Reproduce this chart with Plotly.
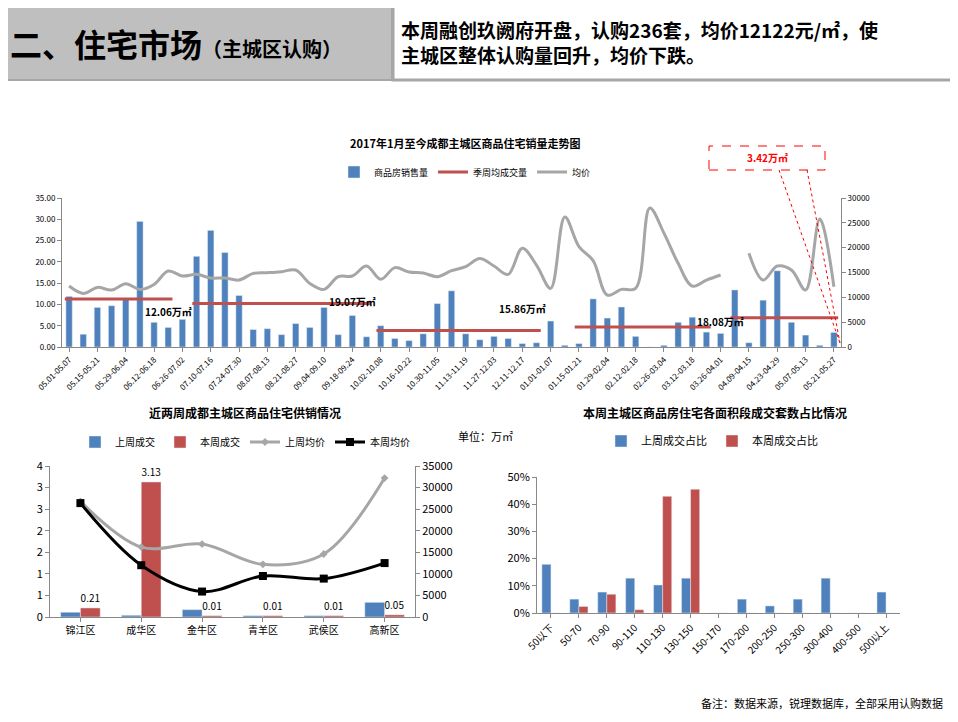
import plotly.graph_objects as go

FONT = "Noto Sans CJK SC"

# ---- top chart: weekly sales since 2017-05 ----
weeks = ["05.01-05.07", "05.08-05.14", "05.15-05.21", "05.22-05.28", "05.29-06.04", "06.05-06.11",
         "06.12-06.18", "06.19-06.25", "06.26-07.02", "07.03-07.09", "07.10-07.16", "07.17-07.23",
         "07.24-07.30", "07.31-08.06", "08.07-08.13", "08.14-08.20", "08.21-08.27", "08.28-09.03",
         "09.04-09.10", "09.11-09.17", "09.18-09.24", "09.25-10.01", "10.02-10.08", "10.09-10.15",
         "10.16-10.22", "10.23-10.29", "10.30-11.05", "11.06-11.12", "11.13-11.19", "11.20-11.26",
         "11.27-12.03", "12.04-12.10", "12.11-12.17", "12.18-12.24", "01.01-01.07", "01.08-01.14",
         "01.15-01.21", "01.22-01.28", "01.29-02.04", "02.05-02.11", "02.12-02.18", "02.19-02.25",
         "02.26-03.04", "03.05-03.11", "03.12-03.18", "03.19-03.25", "03.26-04.01", "04.02-04.08",
         "04.09-04.15", "04.16-04.22", "04.23-04.29", "04.30-05.06", "05.07-05.13", "05.14-05.20",
         "05.21-05.27"]
sales = [11.9, 3.0, 9.3, 9.7, 11.2, 29.5, 5.8, 4.6, 6.5, 21.3, 27.4, 22.2, 12.1, 4.1, 4.3, 2.9,
         5.5, 4.6, 9.3, 2.9, 7.4, 2.4, 5.0, 2.0, 1.5, 3.1, 10.2, 13.2, 3.1, 1.7, 2.5, 2.0, 0.8,
         1.0, 6.1, 0.4, 0.8, 11.3, 6.8, 9.4, 2.5, 0, 0.4, 5.8, 7.0, 3.5, 3.2, 13.4, 1.0, 11.0,
         17.9, 5.8, 2.8, 0.4, 3.42]
price = [12270, 10790, 12000, 11460, 12740, 11600, 12600, 15300, 14300, 14630, 13890, 13890,
         13480, 14830, 14970, 15170, 15500, 12800, 11600, 14160, 14300, 16300, 13620, 15980,
         15100, 14900, 14160, 15370, 16180, 17800, 16300, 14630, 19890, 16500, 11800, 26160,
         20220, 17390, 10450, 11600, 11800, 27980, 22920, 16850, 12270, 13480, 14500, None,
         18880, 13480, 16300, 15500, 11460, 25750, 12122]
# quarterly average segments
season_start = [0, 9, 22, 36, 47]
season_end = [7, 21, 33, 45, 54]
season_avg = [11.3, 10.2, 3.9, 4.7, 6.9]
season_label = ["12.06万㎡", "19.07万㎡", "15.86万㎡", "", "18.08万㎡"]
label_pos = [(7, 8.3), (20, 10.7), (32, 9.1), (0, 0), (46, 6.0)]

# ---- bottom left: districts ----
districts = ["锦江区", "成华区", "金牛区", "青羊区", "武侯区", "高新区"]
last_deal = [0.11, 0.04, 0.17, 0.03, 0.03, 0.34]
this_deal = [0.21, 3.13, 0.03, 0.03, 0.03, 0.05]
this_deal_text = ["0.21", "3.13", "0.01", "0.01", "0.01", "0.05"]
last_price = [26800, 16200, 16900, 12200, 14600, 32200]
this_price = [26400, 12000, 5900, 9500, 8900, 12500]

# ---- bottom right: area segments ----
segments = ["50以下", "50-70", "70-90", "90-110", "110-130", "130-150", "150-170", "170-200",
            "200-250", "250-300", "300-400", "400-500", "500以上"]
last_share = [17.9, 5.1, 7.7, 12.8, 10.3, 12.8, 0, 5.1, 2.6, 5.1, 12.8, 0, 7.7]
this_share = [0, 2.4, 6.9, 1.2, 42.9, 45.5, 0, 0, 0, 0, 0, 0, 0]

BLUE, RED, GREY = "#4F81BD", "#C0504D", "#A6A6A6"
OFF = 8  # page body margin
W, H = 958 - 2 * OFF, 722 - 2 * OFF


def px(x):
    return (x - OFF) / W


def py(y):
    return 1 - (y - OFF) / H


fig = go.Figure()
idx = list(range(len(weeks)))

fig.add_trace(go.Bar(x=idx, y=sales, name="商品房销售量", marker_color=BLUE, width=0.45,
                     xaxis="x", yaxis="y", legend="legend"))
sx, sy = [], []
for s, e, v in zip(season_start, season_end, season_avg):
    sx += [s - 0.3, e + 0.3, None]
    sy += [v, v, None]
fig.add_trace(go.Scatter(x=sx, y=sy, name="季周均成交量", mode="lines",
                         line=dict(color=RED, width=3), xaxis="x", yaxis="y", legend="legend"))
fig.add_trace(go.Scatter(x=idx, y=price, name="均价", mode="lines",
                         line=dict(color=GREY, width=3, shape="spline"),
                         xaxis="x", yaxis="y2", legend="legend"))

fig.add_trace(go.Bar(x=districts, y=last_deal, name="上周成交", marker_color=BLUE,
                     xaxis="x2", yaxis="y3", legend="legend2"))
fig.add_trace(go.Bar(x=districts, y=this_deal, name="本周成交", marker_color=RED,
                     text=this_deal_text, textposition="outside", textfont=dict(size=10, color="#000"),
                     cliponaxis=False, xaxis="x2", yaxis="y3", legend="legend2"))
fig.add_trace(go.Scatter(x=districts, y=last_price, name="上周均价", mode="lines+markers",
                         line=dict(color=GREY, width=3, shape="spline"),
                         marker=dict(symbol="diamond", size=6),
                         xaxis="x2", yaxis="y4", legend="legend2"))
fig.add_trace(go.Scatter(x=districts, y=this_price, name="本周均价", mode="lines+markers",
                         line=dict(color="#000000", width=3, shape="spline"),
                         marker=dict(symbol="square", size=8),
                         xaxis="x2", yaxis="y4", legend="legend2"))

fig.add_trace(go.Bar(x=segments, y=last_share, name="上周成交占比", marker_color=BLUE,
                     xaxis="x3", yaxis="y5", legend="legend3"))
fig.add_trace(go.Bar(x=segments, y=this_share, name="本周成交占比", marker_color=RED,
                     xaxis="x3", yaxis="y5", legend="legend3"))

small = dict(family=FONT, size=8, color="#000")
tick_font = dict(family=FONT, size=11, color="#000")
axis_line = dict(showline=True, linecolor="#888", ticks="outside", ticklen=4, tickcolor="#888",
                 automargin=False)

fig.update_layout(
    width=W, height=H, margin=dict(l=0, r=0, t=0, b=0, autoexpand=False),
    paper_bgcolor="white", plot_bgcolor="white", showlegend=True,
    font=dict(family=FONT, color="#000"),
    barmode="group", bargap=0.35, bargroupgap=0,
    xaxis=dict(domain=[px(62), px(841)], range=[-0.5, 54.5], tickvals=idx[::2],
               ticktext=weeks[::2], tickangle=-45, tickfont=small, **axis_line),
    yaxis=dict(domain=[py(347), py(198)], range=[0, 35], dtick=5, tickformat=".2f",
               tickfont=small, showgrid=False, **axis_line),
    yaxis2=dict(overlaying="y", side="right", anchor="x", range=[0, 30000], dtick=5000,
                tickformat="d", tickfont=small, showgrid=False, **axis_line),
    xaxis2=dict(domain=[px(50), px(415)], anchor="y3", tickfont=dict(family=FONT, size=10),
                **axis_line),
    yaxis3=dict(domain=[py(617), py(466)], anchor="x2", range=[0, 3.5],
                tickvals=[0, 0.5, 1, 1.5, 2, 2.5, 3, 3.5],
                ticktext=["0", "1", "1", "2", "2", "3", "3", "4"], tickfont=tick_font,
                showgrid=False, **axis_line),
    yaxis4=dict(overlaying="y3", side="right", anchor="x2", range=[0, 35000], dtick=5000,
                tickformat="d", tickfont=tick_font, showgrid=False, **axis_line),
    xaxis3=dict(domain=[px(537), px(900)], anchor="y5", tickangle=-45,
                tickfont=dict(family=FONT, size=10), **axis_line),
    yaxis5=dict(domain=[py(613), py(477)], anchor="x3", range=[0, 50], dtick=10,
                ticksuffix="%", tickfont=tick_font, showgrid=False, **axis_line),
    legend=dict(orientation="h", x=px(465), xanchor="center", y=py(172), yanchor="middle",
                font=dict(family=FONT, size=9), bgcolor="rgba(0,0,0,0)"),
    legend2=dict(orientation="h", x=px(245), xanchor="center", y=py(442), yanchor="middle",
                 font=dict(family=FONT, size=10), bgcolor="rgba(0,0,0,0)"),
    legend3=dict(orientation="h", x=px(712), xanchor="center", y=py(441), yanchor="middle",
                 font=dict(family=FONT, size=11), bgcolor="rgba(0,0,0,0)"),
)


def note(text, x, y, size, color="#000", xanchor="center"):
    fig.add_annotation(xref="paper", yref="paper", x=px(x), y=py(y), xanchor=xanchor,
                       yanchor="middle", showarrow=False, align="left", text=text,
                       font=dict(family=FONT, size=size, color=color))


# header panels
fig.add_shape(type="rect", xref="paper", yref="paper", x0=px(-5), x1=px(392), y0=py(80),
              y1=py(1), fillcolor="#BFBFBF", line=dict(color="#A6A6A6", width=2), layer="below")
fig.add_shape(type="rect", xref="paper", yref="paper", x0=px(393), x1=px(956), y0=py(80),
              y1=py(4), fillcolor="white", line=dict(color="#A6A6A6", width=3))
note("<b>二、住宅市场</b><b><span style='font-size:20px'>（主城区认购）</span></b>",
     8, 43, 32, xanchor="left")
note("<b>本周融创玖阙府开盘，认购236套，均价12122元/㎡，使<br>主城区整体认购量回升，均价下跌。</b>",
     399, 42, 19, xanchor="left")

note("<b>2017年1月至今成都主城区商品住宅销量走势图</b>", 465, 143, 11)
note("<b>近两周成都主城区商品住宅供销情况</b>", 245, 412, 12)
note("<b>本周主城区商品房住宅各面积段成交套数占比情况</b>", 715, 412, 12)
note("单位：万㎡", 485, 436, 11)
note("备注：数据来源，锐理数据库，全部采用认购数据", 945, 703, 11, xanchor="right")

for lab, (lx, ly) in zip(season_label, label_pos):
    if lab:
        fig.add_annotation(x=lx, y=ly, xref="x", yref="y", showarrow=False,
                           text="<b>%s</b>" % lab, font=dict(family=FONT, size=10, color="#000"))

# callout for latest week
fig.add_shape(type="rect", xref="paper", yref="paper", x0=px(709), x1=px(825), y0=py(170),
              y1=py(146), line=dict(color="red", width=1, dash="dash"))
note("<b>3.42万㎡</b>", 767, 158, 10, color="red")
for x0 in [779, 807]:
    fig.add_shape(type="line", xref="paper", yref="paper", x0=px(x0), y0=py(170),
                  x1=px(840), y1=py(343), line=dict(color="red", width=1, dash="dot"))

fig.write_html("out.html")
